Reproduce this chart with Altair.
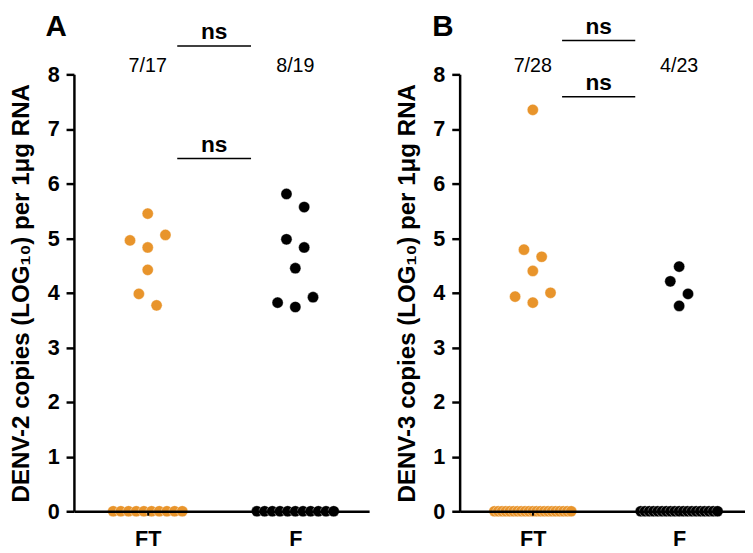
import altair as alt
import pandas as pd

# ---------------- data ----------------
groups = ["FT", "F"]
group_pos = [1, 3]
group_colors = ["#E8942B", "#000000"]

# Panel A (DENV-2): log10 copies per sample, undetected = 0
a_ft_values = [5.45, 5.06, 4.96, 4.83, 4.42, 3.98, 3.77,
               0, 0, 0, 0, 0, 0, 0, 0, 0, 0]
a_f_values = [5.81, 5.57, 4.98, 4.83, 4.45, 3.92, 3.82, 3.74,
              0, 0, 0, 0, 0, 0, 0, 0, 0, 0, 0]

# Panel B (DENV-3)
b_ft_values = [7.35, 4.79, 4.66, 4.40, 4.00, 3.93, 3.82,
               0, 0, 0, 0, 0, 0, 0, 0, 0, 0, 0, 0, 0, 0, 0, 0, 0, 0, 0, 0, 0]
b_f_values = [4.48, 4.21, 3.98, 3.76,
              0, 0, 0, 0, 0, 0, 0, 0, 0, 0, 0, 0, 0, 0, 0, 0, 0, 0, 0]

# significance brackets (y level in axis units) and their labels
a_brackets = [6.46, 8.52]
b_brackets = [7.59, 8.62]
bracket_label = "ns"

a_title = "DENV-2 copies (LOG\u2081\u2080) per 1\u03bcg RNA"
b_title = "DENV-3 copies (LOG\u2081\u2080) per 1\u03bcg RNA"

FONT = "Liberation Sans"


def swarm_offsets(values, px_per_x):
    """Prism-like scatter layout: returns x offsets (data units) per value."""
    offs = [0.0] * len(values)
    zeros = [i for i, v in enumerate(values) if v == 0]
    nz = len(zeros)
    if nz > 1:
        step = min(7.8, 78.0 / (nz - 1))
        for k, i in enumerate(zeros):
            offs[i] = (k - (nz - 1) / 2.0) * step / px_per_x
    pos = sorted([i for i, v in enumerate(values) if v > 0],
                 key=lambda i: -values[i])
    rows = []
    for i in pos:
        if rows and values[rows[-1][0]] - values[i] <= 0.25:
            rows[-1].append(i)
        else:
            rows.append([i])
    for row in rows:
        n = len(row)
        slots = [(k - (n - 1) / 2.0) * 18.0 for k in range(n)]
        sign_pref = 1 if n % 2 == 1 else -1
        slots.sort(key=lambda p: (-abs(p), -sign_pref * p))
        for i, p in zip(row, slots):
            offs[i] = p / px_per_x
    return offs


def panel(ft_vals, f_vals, brackets, ytitle, letter, width, xmax, letter_x):
    height = 444
    px_per_x = width / xmax
    rows = []
    for g, gp, vals in zip(groups, group_pos, [ft_vals, f_vals]):
        offs = swarm_offsets(vals, px_per_x)
        for v, o in zip(vals, offs):
            rows.append({"group": g, "x": gp + o, "value": v})
    pts = pd.DataFrame(rows)

    ratio = pd.DataFrame({
        "x": group_pos,
        "y": [8.05, 8.05],
        "label": [f"{sum(1 for v in vals if v > 0)}/{len(vals)}"
                  for vals in [ft_vals, f_vals]],
    })
    br = pd.DataFrame({
        "x1": [1.4] * len(brackets),
        "x2": [2.4] * len(brackets),
        "xm": [1.9] * len(brackets),
        "y": brackets,
        "label": [bracket_label] * len(brackets),
    })
    let = pd.DataFrame({"letter": [letter]})

    xscale = alt.Scale(domain=[0, xmax], nice=False, zero=False)
    yscale = alt.Scale(domain=[0, 8], nice=False)
    label_expr = " : ".join(
        f"datum.value == {p} ? '{g}'" for p, g in zip(group_pos, groups)
    ) + " : ''"

    points = alt.Chart(pts).mark_circle(
        size=130, opacity=1, stroke="white", strokeWidth=0.4
    ).encode(
        x=alt.X("x:Q", scale=xscale,
                axis=alt.Axis(values=group_pos, labelExpr=label_expr, title=None,
                              tickSize=4, tickWidth=2, labelPadding=14,
                              labelFontSize=22, zindex=1)),
        y=alt.Y("value:Q", scale=yscale,
                axis=alt.Axis(values=list(range(0, 9)), format="d", title=ytitle,
                              tickSize=8, tickWidth=2.5, labelPadding=7,
                              labelFontSize=22, titleFontSize=24.5,
                              titlePadding=14, zindex=1)),
        color=alt.Color("group:N", scale=alt.Scale(domain=groups, range=group_colors),
                        legend=None),
    )
    ratio_txt = alt.Chart(ratio).mark_text(
        font=FONT, fontSize=20, baseline="alphabetic", color="black"
    ).encode(x=alt.X("x:Q", scale=xscale), y=alt.Y("y:Q", scale=yscale), text="label:N")
    rules = alt.Chart(br).mark_rule(strokeWidth=1.6, color="black").encode(
        x=alt.X("x1:Q", scale=xscale), x2="x2:Q", y=alt.Y("y:Q", scale=yscale)
    )
    ns_txt = alt.Chart(br).mark_text(
        font=FONT, fontSize=23, fontWeight="bold", baseline="alphabetic",
        dy=-7, color="black"
    ).encode(x=alt.X("xm:Q", scale=xscale), y=alt.Y("y:Q", scale=yscale), text="label:N")
    letter_txt = alt.Chart(let).mark_text(
        font=FONT, fontSize=30, fontWeight="bold", baseline="alphabetic",
        align="center", color="black"
    ).encode(x=alt.value(letter_x), y=alt.value(-39), text="letter:N")

    return alt.layer(points, ratio_txt, rules, ns_txt, letter_txt).properties(
        width=width, height=height
    )


pa = panel(a_ft_values, a_f_values, a_brackets, a_title, "A", 300, 4.0, -18)
pb = panel(b_ft_values, b_f_values, b_brackets, b_title, "B", 290, 3.9, -17)

chart = alt.hconcat(pa, pb, spacing=25).properties(
    padding={"left": 0, "top": 0, "right": 0, "bottom": 0}
).configure_view(stroke=None).configure_axis(
    grid=False, domainColor="black", domainWidth=2.5, tickColor="black",
    labelColor="black", titleColor="black", labelFont=FONT, titleFont=FONT,
    labelFontWeight="bold", titleFontWeight="bold"
)

chart.save("out.html", embed_options={"renderer": "svg", "actions": False})
